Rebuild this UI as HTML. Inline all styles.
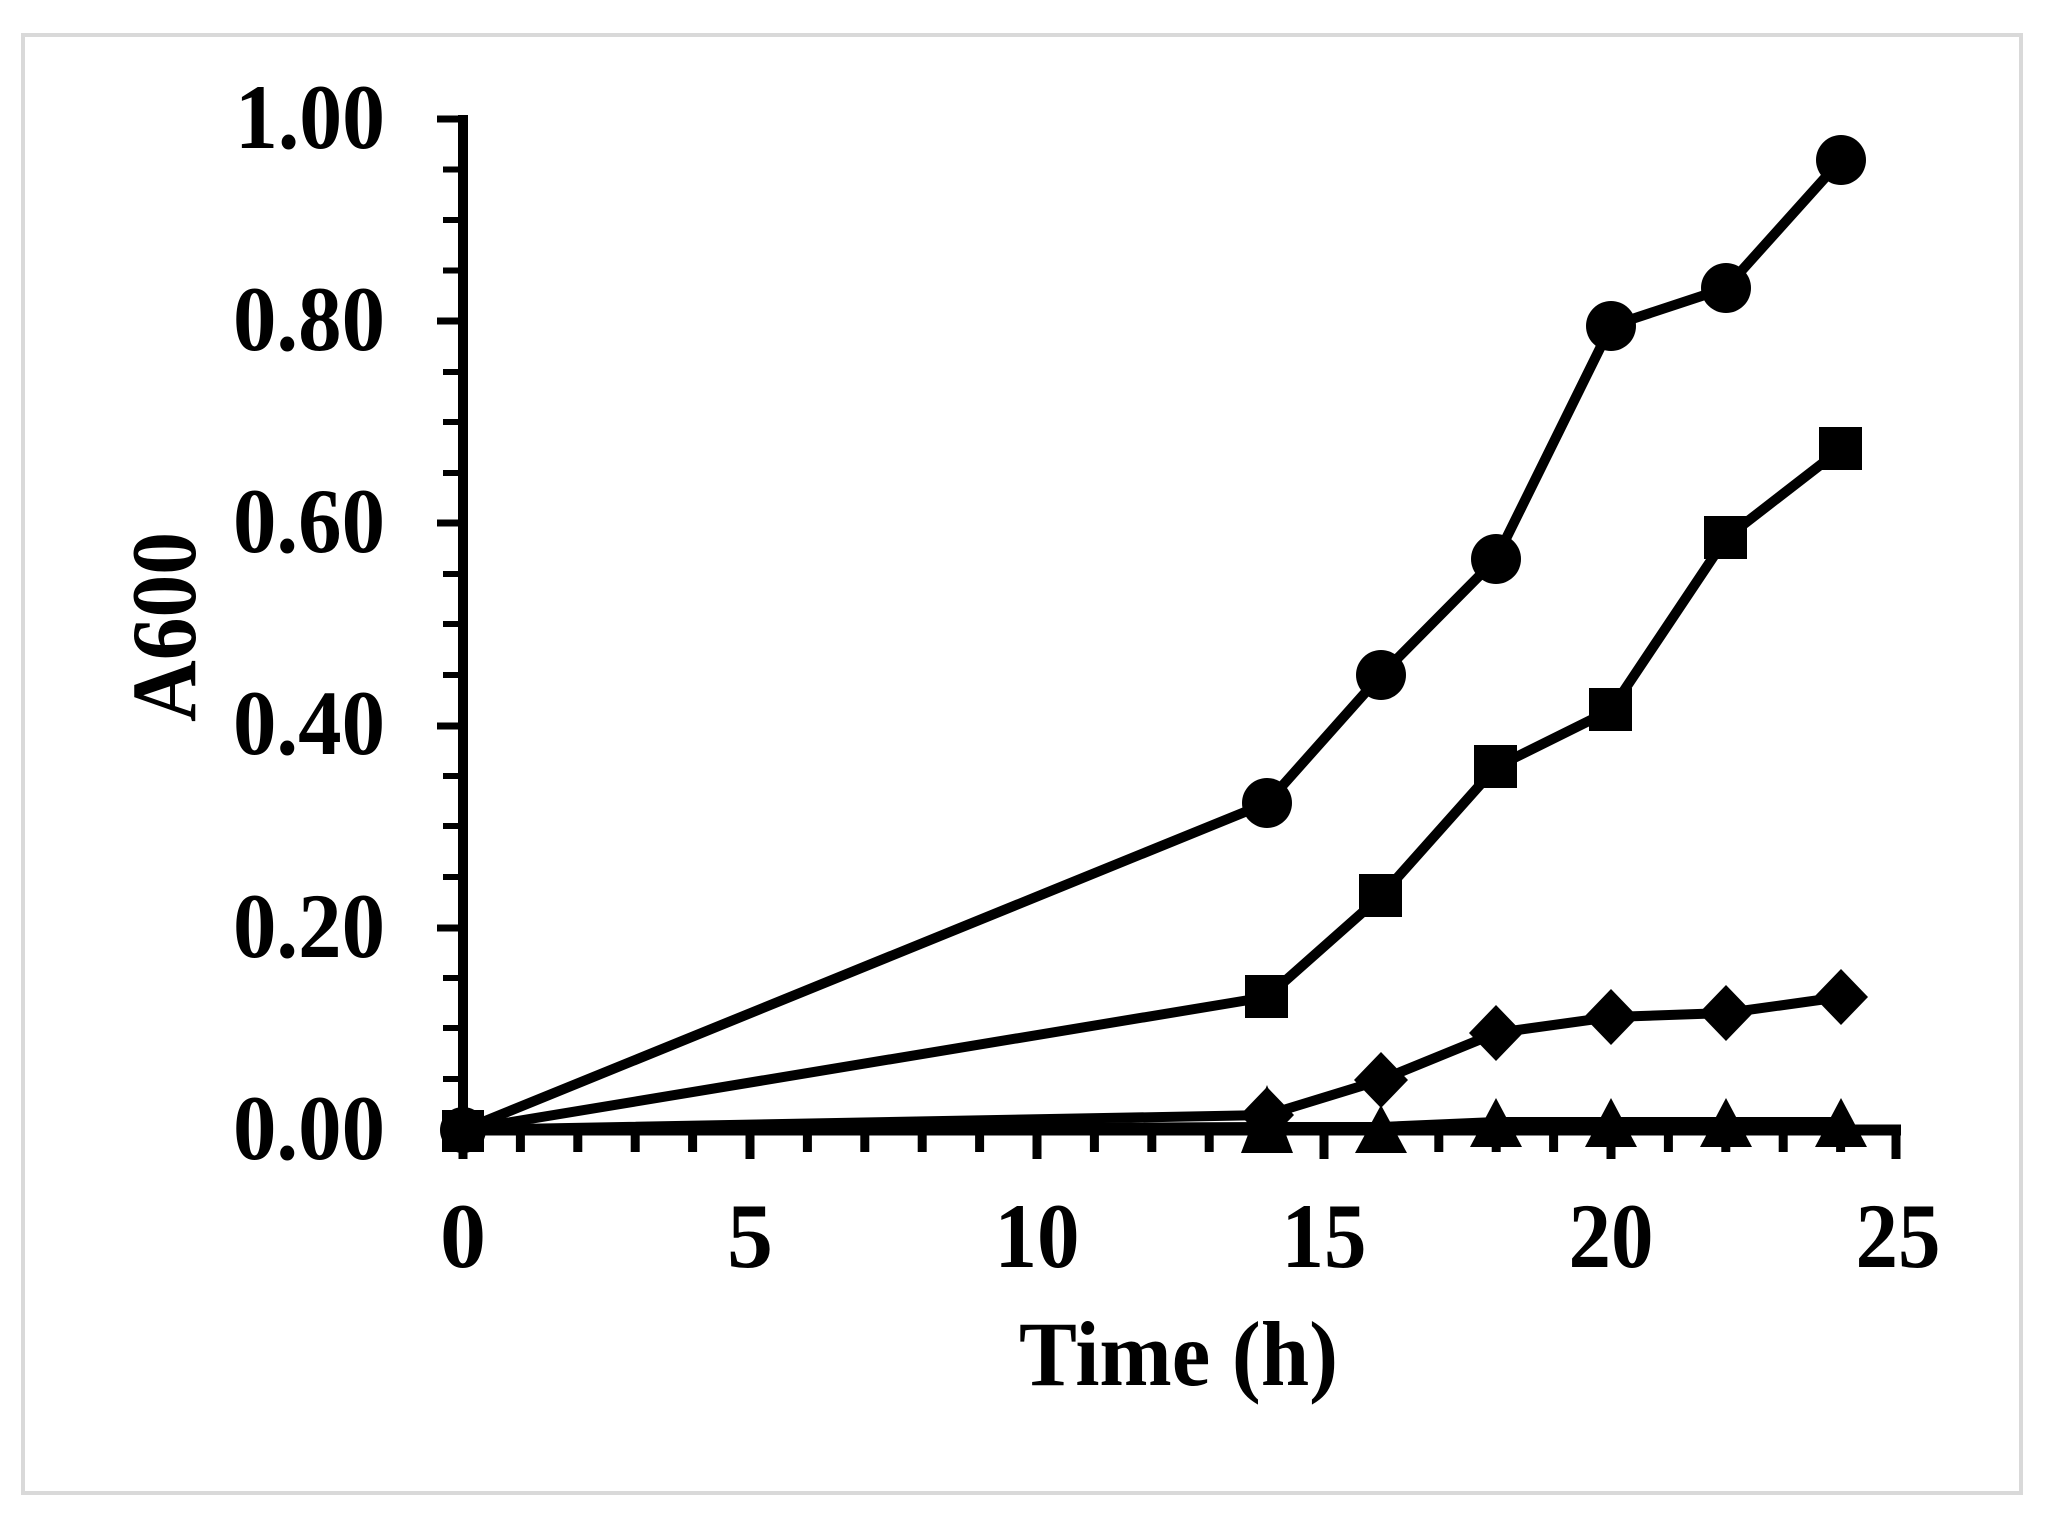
<!DOCTYPE html>
<html><head><meta charset="utf-8"><style>
html,body{margin:0;padding:0;background:#fff;}
svg{display:block;}
text{font-family:"Liberation Serif",serif;font-weight:bold;fill:#000;}
</style></head><body>
<svg width="2052" height="1526" viewBox="0 0 2052 1526" xmlns="http://www.w3.org/2000/svg">
<rect x="0" y="0" width="2052" height="1526" fill="#fff"/>
<rect x="23" y="35" width="1998" height="1458" fill="none" stroke="#d9d9d9" stroke-width="4"/>

<g stroke="#000" stroke-width="6">
<line x1="443" y1="169.5" x2="463" y2="169.5"/><line x1="443" y1="220" x2="463" y2="220"/><line x1="443" y1="270.5" x2="463" y2="270.5"/>
<line x1="443" y1="372" x2="463" y2="372"/><line x1="443" y1="422" x2="463" y2="422"/><line x1="443" y1="473" x2="463" y2="473"/>
<line x1="443" y1="574" x2="463" y2="574"/><line x1="443" y1="624" x2="463" y2="624"/><line x1="443" y1="675" x2="463" y2="675"/>
<line x1="443" y1="776" x2="463" y2="776"/><line x1="443" y1="826" x2="463" y2="826"/><line x1="443" y1="877" x2="463" y2="877"/>
<line x1="443" y1="978" x2="463" y2="978"/><line x1="443" y1="1028" x2="463" y2="1028"/><line x1="443" y1="1079" x2="463" y2="1079"/>
</g>
<g stroke="#000" stroke-width="7">
<line x1="437" y1="119" x2="463" y2="119"/><line x1="437" y1="321" x2="463" y2="321"/><line x1="437" y1="523" x2="463" y2="523"/>
<line x1="437" y1="726" x2="463" y2="726"/><line x1="437" y1="928" x2="463" y2="928"/>
</g>
<g stroke="#000" stroke-width="9">
<line x1="520.4" y1="1130" x2="520.4" y2="1152"/><line x1="577.8" y1="1130" x2="577.8" y2="1152"/><line x1="635.2" y1="1130" x2="635.2" y2="1152"/><line x1="692.6" y1="1130" x2="692.6" y2="1152"/>
<line x1="807.4" y1="1130" x2="807.4" y2="1152"/><line x1="864.8" y1="1130" x2="864.8" y2="1152"/><line x1="922.2" y1="1130" x2="922.2" y2="1152"/><line x1="979.6" y1="1130" x2="979.6" y2="1152"/>
<line x1="1094.4" y1="1130" x2="1094.4" y2="1152"/><line x1="1151.8" y1="1130" x2="1151.8" y2="1152"/><line x1="1209.2" y1="1130" x2="1209.2" y2="1152"/><line x1="1266.6" y1="1130" x2="1266.6" y2="1152"/>
<line x1="1381.4" y1="1130" x2="1381.4" y2="1152"/><line x1="1438.8" y1="1130" x2="1438.8" y2="1152"/><line x1="1496.2" y1="1130" x2="1496.2" y2="1152"/><line x1="1553.6" y1="1130" x2="1553.6" y2="1152"/>
<line x1="1668.4" y1="1130" x2="1668.4" y2="1152"/><line x1="1725.8" y1="1130" x2="1725.8" y2="1152"/><line x1="1783.2" y1="1130" x2="1783.2" y2="1152"/><line x1="1840.6" y1="1130" x2="1840.6" y2="1152"/>
<line x1="463" y1="1130" x2="463" y2="1159"/><line x1="750" y1="1130" x2="750" y2="1159"/><line x1="1037" y1="1130" x2="1037" y2="1159"/><line x1="1324" y1="1130" x2="1324" y2="1159"/><line x1="1611" y1="1130" x2="1611" y2="1159"/><line x1="1896" y1="1130" x2="1896" y2="1159"/>
</g>
<line x1="463" y1="115" x2="463" y2="1135" stroke="#000" stroke-width="10"/>
<line x1="458" y1="1130" x2="1901" y2="1130" stroke="#000" stroke-width="11"/>

<g font-size="92" text-anchor="end">
<text x="385" y="148" textLength="150" lengthAdjust="spacingAndGlyphs">1.00</text>
<text x="385" y="350" textLength="152" lengthAdjust="spacingAndGlyphs">0.80</text>
<text x="385" y="552" textLength="152" lengthAdjust="spacingAndGlyphs">0.60</text>
<text x="385" y="754" textLength="152" lengthAdjust="spacingAndGlyphs">0.40</text>
<text x="385" y="957" textLength="152" lengthAdjust="spacingAndGlyphs">0.20</text>
<text x="385" y="1159" textLength="152" lengthAdjust="spacingAndGlyphs">0.00</text>
</g>
<g font-size="92" text-anchor="middle">
<text x="463" y="1267">0</text>
<text x="750" y="1267">5</text>
<text x="1037" y="1267" textLength="85" lengthAdjust="spacingAndGlyphs">10</text>
<text x="1324" y="1267" textLength="85" lengthAdjust="spacingAndGlyphs">15</text>
<text x="1611" y="1267" textLength="85" lengthAdjust="spacingAndGlyphs">20</text>
<text x="1898" y="1267" textLength="85" lengthAdjust="spacingAndGlyphs">25</text>
</g>
<text x="1019" y="1385" font-size="92" textLength="319" lengthAdjust="spacingAndGlyphs">Time (h)</text>
<text transform="translate(195,722) rotate(-90)" font-size="92" textLength="190" lengthAdjust="spacingAndGlyphs">A600</text>

<g fill="none" stroke="#000" stroke-width="10" stroke-linejoin="round">
<polyline points="463,1130 1267,803 1381,675 1496,559 1611,326 1726,288 1841,160"/>
<polyline points="463,1130 1267,997 1381,896 1496,767 1611,710 1726,538 1841,449"/>
<polyline points="463,1130 1267,1115 1381,1080 1496,1033 1611,1017 1726,1013 1841,997"/>
<polyline points="463,1130 1267,1127 1381,1127 1496,1122 1611,1122 1726,1122 1841,1122"/>
</g>
<g fill="#000">
<circle cx="1267" cy="803" r="25"/><circle cx="1381" cy="675" r="25"/><circle cx="1496" cy="559" r="25"/><circle cx="1611" cy="326" r="25"/><circle cx="1726" cy="288" r="25"/><circle cx="1841" cy="160" r="25"/>
<rect x="1245" y="975" width="43" height="43"/><rect x="1359" y="874" width="43" height="43"/><rect x="1474" y="745" width="43" height="43"/><rect x="1589" y="688" width="43" height="43"/><rect x="1704" y="516" width="43" height="43"/><rect x="1819" y="427" width="43" height="43"/>
<polygon points="1267,1087 1294,1115 1267,1143 1240,1115"/>
<polygon points="1381,1052 1408,1080 1381,1108 1354,1080"/>
<polygon points="1496,1005 1523,1033 1496,1061 1469,1033"/>
<polygon points="1611,989 1638,1017 1611,1045 1584,1017"/>
<polygon points="1726,985 1753,1013 1726,1041 1699,1013"/>
<polygon points="1841,969 1868,997 1841,1025 1814,997"/>
<polygon points="1267,1085 1293,1153 1241,1153"/>
<polygon points="1381,1105 1407,1153 1355,1153"/>
<polygon points="1496,1098 1522,1147 1470,1147"/>
<polygon points="1611,1098 1637,1147 1585,1147"/>
<polygon points="1726,1098 1752,1147 1700,1147"/>
<polygon points="1841,1098 1867,1147 1815,1147"/>
<rect x="442" y="1110" width="42" height="42"/>
<circle cx="463" cy="1130" r="23"/>
</g>
</svg>
</body></html>
